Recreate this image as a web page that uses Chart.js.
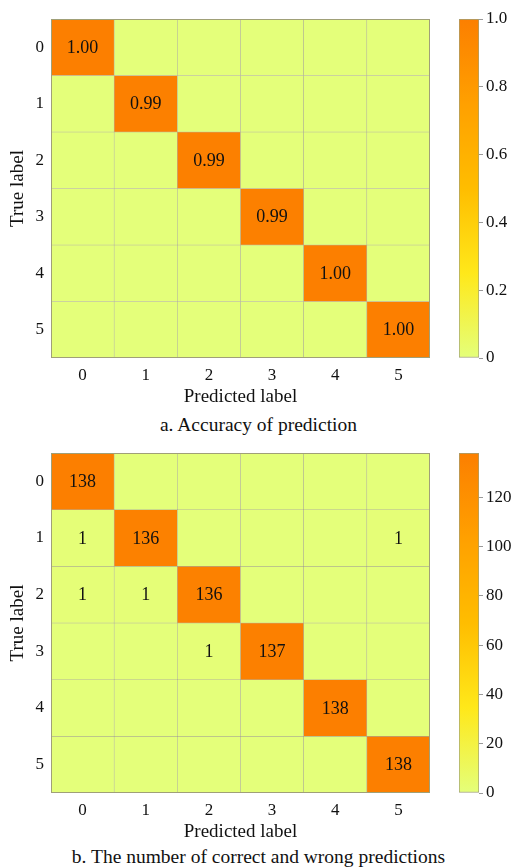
<!DOCTYPE html>
<html>
<head>
<meta charset="utf-8">
<script src="https://cdn.jsdelivr.net/npm/chart.js@4.4.0/dist/chart.umd.min.js"></script>
<style>
  body { margin: 0; background: #fff; font-family: "Liberation Serif", "DejaVu Serif", serif; }
  #page { position: relative; width: 517px; height: 868px; overflow: hidden; }
  .box { position: absolute; }
  .caption { position: absolute; left: 0; width: 517px; text-align: center; font-size: 19.5px; line-height: 22px; color: #111; }
</style>
</head>
<body>
<div id="page">
  <div class="box" style="left:0;top:0;width:445px;height:410px"><canvas id="heatA"></canvas></div>
  <div class="box" style="left:440px;top:0;width:77px;height:410px"><canvas id="barA"></canvas></div>
  <div class="caption" style="top:414px">a. Accuracy of prediction</div>
  <div class="box" style="left:0;top:434px;width:445px;height:411px"><canvas id="heatB"></canvas></div>
  <div class="box" style="left:440px;top:434px;width:77px;height:411px"><canvas id="barB"></canvas></div>
  <div class="caption" style="top:846px">b. The number of correct and wrong predictions</div>
</div>
<script>
// class labels
const predLabels = ['0', '1', '2', '3', '4', '5'];
const trueLabels = ['0', '1', '2', '3', '4', '5'];

// a. accuracy per cell (rows = true label)
const accuracy = [
    [1.00, 0, 0, 0, 0, 0],
    [0, 0.99, 0, 0, 0, 0],
    [0, 0, 0.99, 0, 0, 0],
    [0, 0, 0, 0.99, 0, 0],
    [0, 0, 0, 0, 1.00, 0],
    [0, 0, 0, 0, 0, 1.00]
];

// b. prediction counts
const counts = [
    [138, 0, 0, 0, 0, 0],
    [1, 136, 0, 0, 0, 1],
    [1, 1, 136, 0, 0, 0],
    [0, 0, 1, 137, 0, 0],
    [0, 0, 0, 0, 138, 0],
    [0, 0, 0, 0, 0, 138]
];

// colorbar ticks
const cbTicksA = [0, 0.2, 0.4, 0.6, 0.8, 1.0];
const cbLabelsA = ['0', '0.2', '0.4', '0.6', '0.8', '1.0'];
const cbTicksB = [0, 20, 40, 60, 80, 100, 120];
const cbLabelsB = ['0', '20', '40', '60', '80', '100', '120'];

// Wistia-like colormap
const cmap = [
    [0.00, [228, 255, 122]],
    [0.25, [255, 232, 26]],
    [0.50, [255, 189, 0]],
    [0.75, [255, 160, 0]],
    [1.00, [252, 127, 0]]
];

function colorFor(t) {
    t = Math.max(0, Math.min(1, t));
    for (let i = 1; i < cmap.length; i++) {
        if (t <= cmap[i][0]) {
            const [t0, c0] = cmap[i - 1];
            const [t1, c1] = cmap[i];
            const f = (t - t0) / (t1 - t0);
            const c = c0.map((v, k) => Math.round(v + (c1[k] - v) * f));
            return `rgb(${c[0]},${c[1]},${c[2]})`;
        }
    }
    return 'rgb(252,127,0)';
}

const FONT = '"Liberation Serif", "DejaVu Serif", serif';
const TEXT = '#111';
const FRAME = '#a0a078';

const cellText = {
    id: 'cellText',
    afterDatasetsDraw(chart, args, opts) {
        const { ctx, chartArea, scales } = chart;
        ctx.save();
        ctx.font = `18px ${FONT}`;
        ctx.fillStyle = TEXT;
        ctx.textAlign = 'center';
        ctx.textBaseline = 'middle';
        opts.matrix.forEach((row, r) => {
            row.forEach((v, c) => {
                if (!v) return;
                ctx.fillText(opts.format(v), scales.x.getPixelForTick(c), scales.y.getPixelForValue(r) + 1);
            });
        });
        ctx.strokeStyle = FRAME;
        ctx.lineWidth = 1;
        ctx.strokeRect(chartArea.left + 0.5, chartArea.top + 0.5,
            chartArea.right - chartArea.left - 1, chartArea.bottom - chartArea.top - 1);
        ctx.restore();
    }
};

function makeHeatmap(id, matrix, vmax, format) {
    const datasets = trueLabels.map((lab, r) => ({
        label: lab,
        data: predLabels.map(() => [r - 0.5, r + 0.5]),
        backgroundColor: matrix[r].map(v => colorFor(v / vmax)),
        borderColor: 'rgba(150,150,120,0.6)',
        borderWidth: 0.6,
        borderSkipped: false,
        grouped: false,
        barPercentage: 1,
        categoryPercentage: 1
    }));

    return new Chart(document.getElementById(id), {
        type: 'bar',
        data: { labels: predLabels, datasets },
        plugins: [cellText],
        options: {
            responsive: true,
            maintainAspectRatio: false,
            animation: false,
            layout: { padding: { top: 19, right: 15, left: 0, bottom: 0 } },
            plugins: {
                legend: { display: false },
                tooltip: { enabled: false },
                cellText: { matrix, format }
            },
            scales: {
                x: {
                    grid: { display: false, drawTicks: false },
                    border: { display: false },
                    ticks: { color: TEXT, font: { family: FONT, size: 17 }, padding: 7 },
                    title: { display: true, text: 'Predicted label', color: TEXT,
                        font: { family: FONT, size: 19 }, padding: { top: 0, bottom: 2 } },
                    afterFit: s => { s.height = 52; }
                },
                y: {
                    type: 'linear',
                    min: -0.5,
                    max: 5.5,
                    reverse: true,
                    grid: { display: false, drawTicks: false },
                    border: { display: false },
                    afterBuildTicks: s => { s.ticks = trueLabels.map((l, i) => ({ value: i })); },
                    ticks: { color: TEXT, font: { family: FONT, size: 17 }, padding: 7,
                        callback: v => trueLabels[v] },
                    title: { display: true, text: 'True label', color: TEXT,
                        font: { family: FONT, size: 19 }, padding: { top: 7, bottom: 0 } },
                    afterFit: s => { s.width = 51; }
                }
            }
        }
    });
}

function makeColorbar(id, vmax, tickVals, tickLabels, bottomPad) {
    return new Chart(document.getElementById(id), {
        type: 'bar',
        data: {
            labels: ['scale'],
            datasets: [{
                data: [vmax],
                backgroundColor: (c) => {
                    const area = c.chart.chartArea;
                    if (!area) return colorFor(0.5);
                    const g = c.chart.ctx.createLinearGradient(0, area.bottom, 0, area.top);
                    cmap.forEach(([t, col]) => g.addColorStop(t, `rgb(${col[0]},${col[1]},${col[2]})`));
                    return g;
                },
                borderColor: FRAME,
                borderWidth: 1,
                borderSkipped: false,
                barPercentage: 1,
                categoryPercentage: 1
            }]
        },
        options: {
            responsive: true,
            maintainAspectRatio: false,
            animation: false,
            layout: { padding: { top: 19, left: 19, right: 0, bottom: bottomPad } },
            plugins: { legend: { display: false }, tooltip: { enabled: false } },
            scales: {
                x: { display: false },
                y: {
                    position: 'right',
                    min: 0,
                    max: vmax,
                    afterBuildTicks: s => { s.ticks = tickVals.map(v => ({ value: v })); },
                    grid: { drawOnChartArea: false, drawTicks: true, tickLength: 4, color: '#999' },
                    border: { display: false },
                    ticks: { color: TEXT, font: { family: FONT, size: 17 }, padding: 3,
                        callback: v => tickLabels[tickVals.indexOf(v)] },
                    afterFit: s => { s.width = 38; }
                }
            }
        }
    });
}

makeHeatmap('heatA', accuracy, 1, v => v.toFixed(2));
makeColorbar('barA', 1, cbTicksA, cbLabelsA, 52);
makeHeatmap('heatB', counts, 138, v => String(v));
makeColorbar('barB', 138, cbTicksB, cbLabelsB, 52);
</script>
</body>
</html>
